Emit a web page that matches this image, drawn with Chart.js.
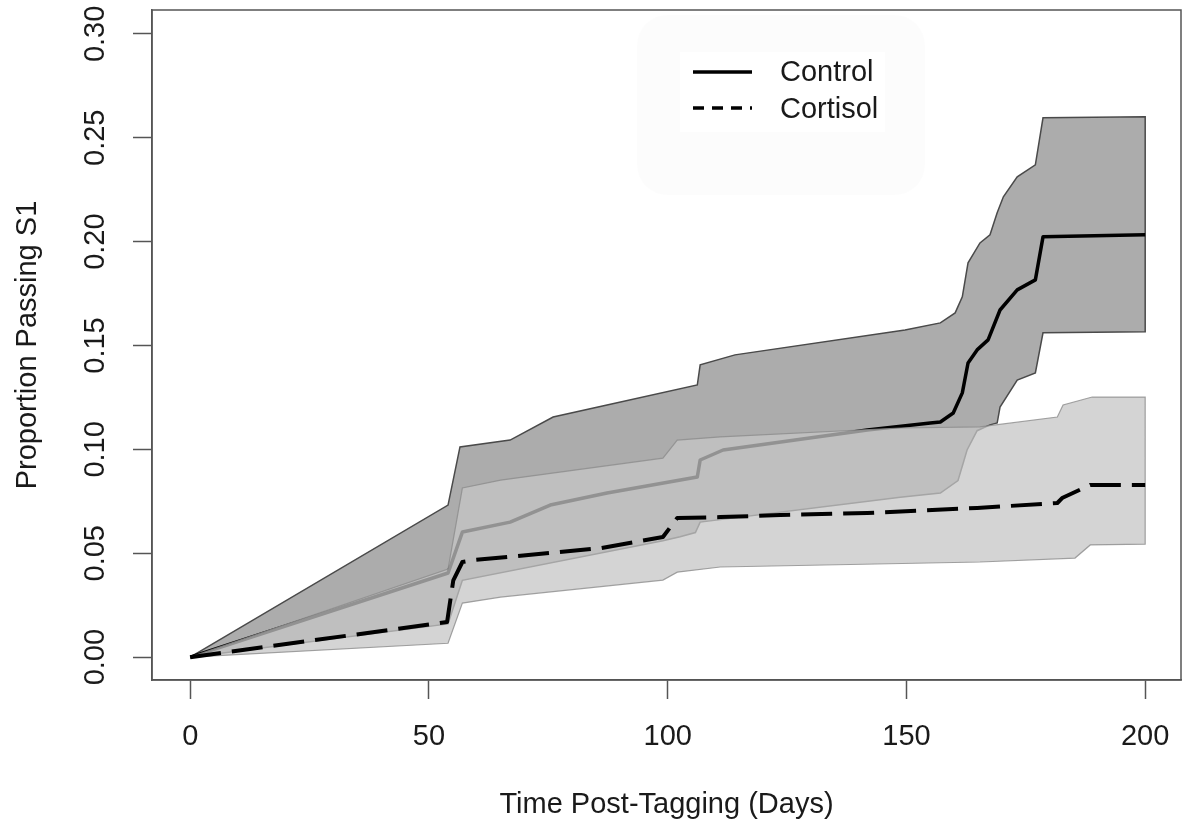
<!DOCTYPE html>
<html>
<head>
<meta charset="utf-8">
<title>Proportion Passing S1</title>
<script src="https://cdn.jsdelivr.net/npm/chart.js@4.4.0/dist/chart.umd.min.js"></script>
<style>
  html, body { margin: 0; padding: 0; background: #fff; overflow: hidden; }
  #wrap { width: 1182px; height: 834px; }
</style>
</head>
<body>
<div id="wrap"><canvas id="myChart" width="1182" height="834"></canvas></div>
<script>
// control group, mean line
var ctrlDays = [0, 54.0, 57.0, 67.0, 75.4, 87.3, 106.2, 106.8, 111.6, 141.8, 155.0, 157.1, 159.8, 161.7, 162.9, 164.8, 167.1, 169.6, 173.2, 177.0, 178.6, 200];
var ctrlMean = [0, 0.0405, 0.0602, 0.065, 0.0732, 0.079, 0.0867, 0.0949, 0.0997, 0.1093, 0.1127, 0.1132, 0.1175, 0.1272, 0.1416, 0.1479, 0.1527, 0.1671, 0.1768, 0.1816, 0.2023, 0.2033];

// control group, upper and lower band
var ctrlUpDays = [0, 54.0, 56.5, 67.0, 76.0, 87.3, 106.2, 106.8, 114.1, 149.7, 157.1, 160.2, 161.7, 162.9, 165.4, 167.5, 169.0, 170.3, 173.2, 177.0, 178.6, 200];
var ctrlUp = [0, 0.0732, 0.1012, 0.1045, 0.1156, 0.1214, 0.131, 0.1407, 0.1455, 0.1575, 0.1609, 0.1657, 0.1734, 0.1898, 0.1994, 0.2033, 0.2139, 0.2216, 0.2312, 0.2370, 0.2596, 0.2601];
var ctrlLoDays = [0, 54.0, 57.0, 99.0, 102.6, 105.8, 106.8, 148.7, 157.1, 160.8, 162.7, 164.8, 167.5, 169.0, 169.6, 173.2, 177.0, 178.6, 200];
var ctrlLo = [0, 0.016, 0.037, 0.056, 0.058, 0.060, 0.065, 0.077, 0.079, 0.085, 0.0997, 0.109, 0.1118, 0.1127, 0.1204, 0.1334, 0.1368, 0.1561, 0.1566];

// cortisol group, mean line
var cortDays = [0, 53.8, 55.1, 57.0, 59.3, 86.0, 99.0, 102.0, 111.0, 123.6, 141.8, 164.8, 181.6, 182.6, 188.5, 200];
var cortMean = [0, 0.0169, 0.037, 0.0458, 0.0467, 0.0525, 0.0578, 0.0670, 0.0674, 0.0684, 0.0694, 0.0718, 0.0742, 0.0766, 0.0829, 0.0829];

// cortisol group, upper and lower band
var cortUpDays = [0, 54.0, 57.0, 65.0, 99.0, 102.0, 111.0, 148.7, 165.4, 181.6, 182.8, 188.9, 200];
var cortUp = [0, 0.0424, 0.0814, 0.0852, 0.0958, 0.1045, 0.106, 0.1103, 0.1108, 0.1156, 0.1214, 0.1252, 0.1252];
var cortLoDays = [0, 54.0, 57.0, 65.0, 99.0, 102.0, 111.0, 165.4, 185.3, 188.5, 200];
var cortLo = [0, 0.0067, 0.026, 0.0289, 0.0371, 0.0409, 0.0434, 0.0458, 0.0477, 0.054, 0.0544];

var xTicks = [0, 50, 100, 150, 200];
var yTicks = [0, 0.05, 0.10, 0.15, 0.20, 0.25, 0.30];
var legendLabels = ['Control', 'Cortisol'];

var textColor = '#1a1a1a';
var axisColor = '#555';

Chart.defaults.font.family = "'Liberation Sans', Arial, sans-serif";
Chart.defaults.font.size = 29;
Chart.defaults.color = textColor;

function toPoints(days, vals) {
     return days.map((d, i) => ({ x: d, y: vals[i] }));
}

// band = upper edge forward, then lower edge back to the start
function band(upDays, up, loDays, lo) {
     return toPoints(upDays, up).concat(toPoints(loDays, lo).reverse());
}

// no extra room for overhanging tick labels, the plot box is fixed
function noLabelPadding(s) {
     s.paddingLeft = 0;
     s.paddingRight = 0;
     s.paddingTop = 0;
     s.paddingBottom = 0;
}

// box round the plot region
var boxPlugin = {
     id: 'box',
     afterDatasetsDraw(chart) {
          var a = chart.chartArea;
          var ctx = chart.ctx;
          ctx.save();
          ctx.strokeStyle = axisColor;
          ctx.lineWidth = 1.5;
          ctx.strokeRect(a.left, a.top, a.right - a.left, a.bottom - a.top);
          ctx.restore();
     }
};

// legend in the top middle
var legendPlugin = {
     id: 'rlegend',
     afterDraw(chart) {
          var ctx = chart.ctx;
          ctx.save();
          ctx.fillStyle = 'rgba(0,0,0,0.012)';
          ctx.beginPath();
          ctx.roundRect(637, 15, 288, 180, 30);
          ctx.fill();
          ctx.fillStyle = '#fff';
          ctx.fillRect(680, 52, 205, 80);

          ctx.strokeStyle = '#000';
          ctx.lineWidth = 3.5;
          ctx.beginPath();
          ctx.moveTo(693, 72);
          ctx.lineTo(752, 72);
          ctx.stroke();

          ctx.setLineDash([11, 8]);
          ctx.beginPath();
          ctx.moveTo(693, 108);
          ctx.lineTo(752, 108);
          ctx.stroke();
          ctx.setLineDash([]);

          ctx.fillStyle = textColor;
          ctx.font = "29px 'Liberation Sans', Arial, sans-serif";
          ctx.textBaseline = 'middle';
          ctx.textAlign = 'left';
          ctx.fillText(legendLabels[0], 780, 73);
          ctx.fillText(legendLabels[1], 780, 110);
          ctx.restore();
     }
};

var myChart = document.getElementById('myChart');

var data = {
     datasets: [
          {
               label: 'Control band',
               data: band(ctrlUpDays, ctrlUp, ctrlLoDays, ctrlLo),
               fill: 'shape',
               backgroundColor: 'rgb(172,172,172)',
               borderColor: '#4a4a4a',
               borderWidth: 1.5,
               pointRadius: 0,
               tension: 0,
               order: 4
          },
          {
               label: legendLabels[0],
               data: toPoints(ctrlDays, ctrlMean),
               fill: false,
               borderColor: '#000',
               borderWidth: 3.5,
               borderJoinStyle: 'round',
               pointRadius: 0,
               tension: 0,
               order: 3
          },
          {
               label: 'Cortisol band',
               data: band(cortUpDays, cortUp, cortLoDays, cortLo),
               fill: 'shape',
               backgroundColor: 'rgba(197,197,197,0.74)',
               borderColor: 'rgba(140,140,140,0.8)',
               borderWidth: 1.2,
               pointRadius: 0,
               tension: 0,
               order: 2
          },
          {
               label: legendLabels[1],
               data: toPoints(cortDays, cortMean),
               fill: false,
               borderColor: '#000',
               borderWidth: 4,
               borderDash: [31, 11],
               borderJoinStyle: 'round',
               pointRadius: 0,
               tension: 0,
               order: 1
          }
     ]
};

var linechart = new Chart(myChart, {
     type: 'line',
     data: data,
     plugins: [boxPlugin, legendPlugin],
     options: {
          responsive: false,
          animation: false,
          devicePixelRatio: 1,
          layout: { padding: { left: 0, right: 1, top: 10, bottom: 0 } },
          plugins: {
               legend: { display: false },
               tooltip: { enabled: false }
          },
          scales: {
               x: {
                    type: 'linear',
                    min: -8,
                    max: 207.5,
                    afterBuildTicks: s => { s.ticks = xTicks.map(v => ({ value: v })); },
                    afterFit: s => { s.height = 154; noLabelPadding(s); },
                    ticks: {
                         padding: 21,
                         autoSkip: false,
                         maxRotation: 0,
                         callback: v => String(v)
                    },
                    grid: {
                         drawOnChartArea: false,
                         drawTicks: true,
                         tickLength: 19,
                         tickColor: axisColor,
                         tickWidth: 1.5
                    },
                    border: { display: true, color: axisColor, width: 1.5 },
                    title: {
                         display: true,
                         text: 'Time Post-Tagging (Days)',
                         padding: { top: 0, bottom: 12 }
                    }
               },
               y: {
                    type: 'linear',
                    min: -0.011,
                    max: 0.3115,
                    afterBuildTicks: s => { s.ticks = yTicks.map(v => ({ value: v })); },
                    afterFit: s => { s.width = 152; noLabelPadding(s); },
                    ticks: {
                         minRotation: 90,
                         maxRotation: 90,
                         crossAlign: 'center',
                         padding: 9,
                         autoSkip: false,
                         callback: v => v.toFixed(2)
                    },
                    grid: {
                         drawOnChartArea: false,
                         drawTicks: true,
                         tickLength: 19,
                         tickColor: axisColor,
                         tickWidth: 1.5
                    },
                    border: { display: true, color: axisColor, width: 1.5 },
                    title: {
                         display: true,
                         text: 'Proportion Passing S1',
                         padding: { top: 11, bottom: 0 }
                    }
               }
          }
     }
});
</script>
</body>
</html>
